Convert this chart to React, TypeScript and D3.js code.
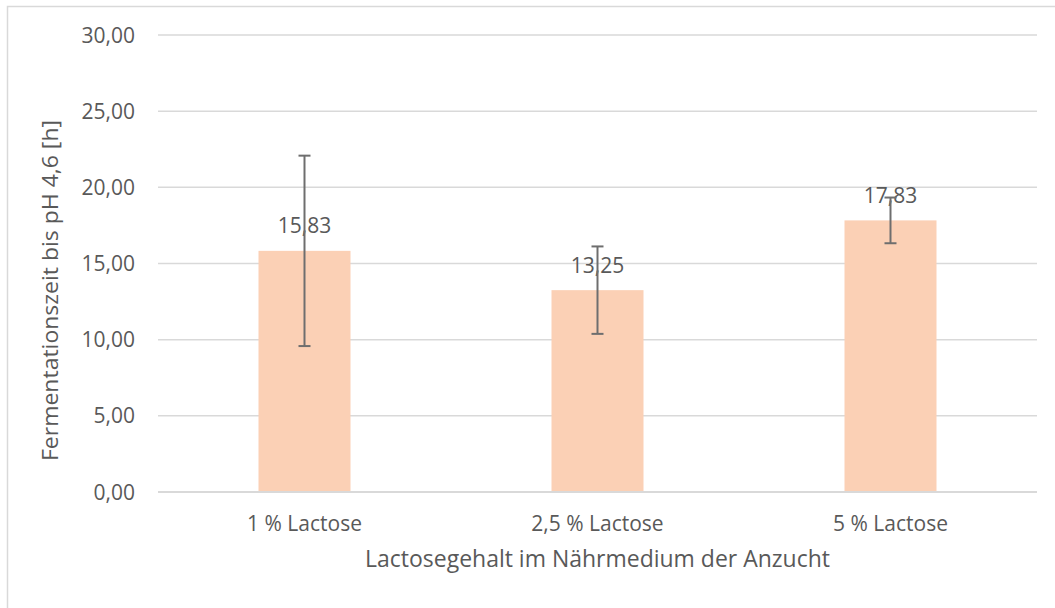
import React from "react";
import * as d3 from "d3";

const categories = ["1 % Lactose", "2,5 % Lactose", "5 % Lactose"];
const values = [15.83, 13.25, 17.83];
const errors = [6.25, 2.87, 1.5];
const yTicks = [0, 5, 10, 15, 20, 25, 30];
const yTitle = "Fermentationszeit bis pH 4,6 [h]";
const xTitle = "Lactosegehalt im Nährmedium der Anzucht";

const W = 1055;
const H = 608;
const FONT = "'Open Sans', sans-serif";
const TEXT = "#595959";

export default function App() {
  const left = 158, right = 1037, top = 35, bottom = 492;
  const x = d3.scaleBand<string>().domain(categories).range([left, right]).paddingInner(0.686).paddingOuter(0.343);
  const y = d3.scaleLinear().domain([0, 30]).range([bottom, top]);
  const fmt = (v: number) => v.toFixed(2).replace(".", ",");
  return (
    <svg width={W} height={H} style={{ position: "absolute", left: 0, top: 0, background: "#fff" }} fontFamily={FONT}>
      <rect x={7.5} y={6.5} width={W + 10} height={H + 10} fill="#fff" stroke="#D9D9D9" strokeWidth={1.5} />
      {yTicks.map((t) => (
        <g key={t}>
          {t !== 0 && <line x1={left} x2={right} y1={y(t)} y2={y(t)} stroke="#D9D9D9" strokeWidth={1.5} />}
          <text x={135} y={y(t)} dy="0.36em" textAnchor="end" fontSize={21} fill={TEXT}>{fmt(t)}</text>
        </g>
      ))}
      {categories.map((c, i) => {
        const cx = (x(c) as number) + x.bandwidth() / 2;
        const v = values[i];
        const e = errors[i];
        return (
          <g key={c}>
            <rect x={x(c)} y={y(v)} width={x.bandwidth()} height={y(0) - y(v)} fill="#FBD0B5" />
            <text x={cx} y={y(v) - 17.5} textAnchor="middle" fontSize={21} fill={TEXT}>{fmt(v)}</text>
            <line x1={cx} x2={cx} y1={y(v + e)} y2={y(v - e)} stroke="#6E6E6E" strokeWidth={2} />
            <line x1={cx - 6} x2={cx + 6} y1={y(v + e)} y2={y(v + e)} stroke="#6E6E6E" strokeWidth={2} />
            <line x1={cx - 6} x2={cx + 6} y1={y(v - e)} y2={y(v - e)} stroke="#6E6E6E" strokeWidth={2} />
            <text x={cx} y={531} textAnchor="middle" fontSize={21} fill={TEXT}>{c}</text>
          </g>
        );
      })}
      <line x1={left} x2={right} y1={bottom} y2={bottom} stroke="#D9D9D9" strokeWidth={2} />
      <text x={(left + right) / 2} y={567} textAnchor="middle" fontSize={23} fill={TEXT} textLength={465} lengthAdjust="spacingAndGlyphs">{xTitle}</text>
      <text transform={`translate(58,290.5) rotate(-90)`} textAnchor="middle" fontSize={22.5} fill={TEXT} textLength={341} lengthAdjust="spacingAndGlyphs">{yTitle}</text>
    </svg>
  );
}
